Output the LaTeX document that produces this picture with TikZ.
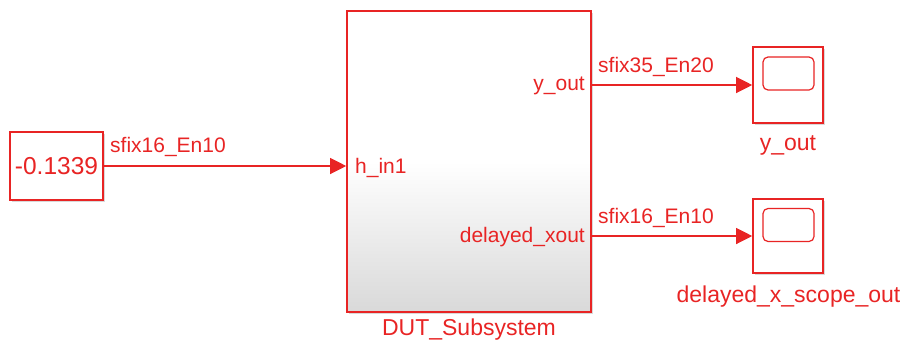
\documentclass[tikz,border=0pt]{standalone}
\usepackage{fontspec}
\setmainfont{Liberation Sans}
\usetikzlibrary{arrows.meta,shadows,calc}
\definecolor{sred}{RGB}{232,36,36}
\tikzset{
  blk/.style={draw=sred, line width=1.6pt, fill=white, inner sep=0pt,
    drop shadow={shadow xshift=1.5pt, shadow yshift=-1.5pt, opacity=0.25, fill=black!60}},
  sig/.style={draw=sred, line width=1.2pt, -{Triangle[length=16pt,width=16pt]}},
  lbl/.style={text=sred, inner sep=0pt, font=\fontsize{21}{24}\selectfont},
  bname/.style={text=sred, inner sep=0pt, font=\fontsize{23}{26}\selectfont},
  inner/.style={draw=sred, line width=1.2pt, rounded corners=5pt, minimum width=51pt, minimum height=33pt, inner sep=0pt}
}
\begin{document}
\begin{tikzpicture}[x=1pt,y=-1pt]
\useasboundingbox (0,0) rectangle (902,346);
% constant
\node[blk, minimum width=93pt, minimum height=68pt, text=sred, font=\fontsize{24.5}{28}\selectfont] (const) at (56.5,166) {-0.1339};
% DUT
\node[blk, top color=white, bottom color=black!15, middle color=white, minimum width=244pt, minimum height=301pt] (dut) at (469,161.5) {};
\node[lbl, anchor=west] (hin) at (355,168) {h\_in1};
\node[lbl, anchor=east] (yport) at (585,86) {y\_out};
\node[lbl, anchor=east] (dport) at (585,237) {delayed\_xout};
\node[bname] (dutname) at (469,330) {DUT\_Subsystem};
% scopes
\node[blk, minimum width=70pt, minimum height=76pt] (sc1) at (788,85) {};
\node[inner] (sc1in) at ($(sc1.center)+(0.5,-11.5)$) {};
\node[bname] (sc1name) at (788,145) {y\_out};
\node[blk, minimum width=70pt, minimum height=74pt] (sc2) at (788,236) {};
\node[inner] (sc2in) at ($(sc2.center)+(0.5,-11)$) {};
\node[bname] (sc2name) at (788.5,297) {delayed\_x\_scope\_out};
% connectors
\coordinate (din) at (dut.west |- const.east);
\draw[sig] (const.east) -- (din);
\node[lbl, anchor=west] (l1) at (110,147) {sfix16\_En10};
\coordinate (yo) at (dut.east |- sc1.west);
\draw[sig] (yo) -- (sc1.west);
\node[lbl, anchor=west] (l2) at (598,67) {sfix35\_En20};
\coordinate (dxo) at (dut.east |- sc2.west);
\draw[sig] (dxo) -- (sc2.west);
\node[lbl, anchor=west] (l3) at (598,218) {sfix16\_En10};
\end{tikzpicture}
\end{document}
